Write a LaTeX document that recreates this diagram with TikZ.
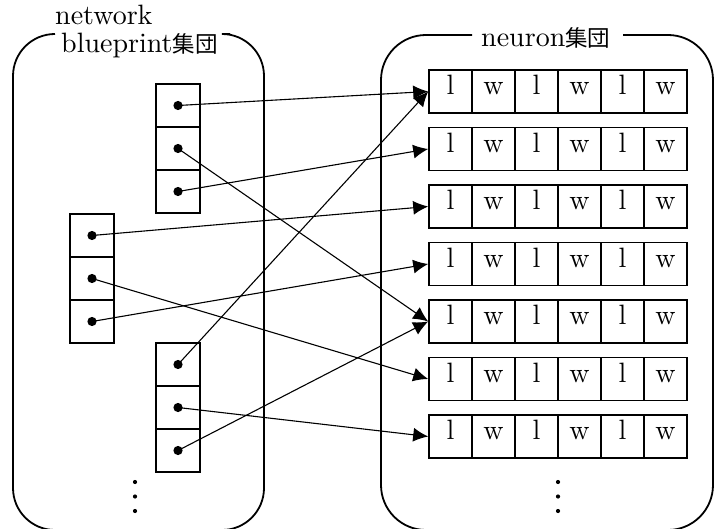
\documentclass[tikz,border=0pt]{standalone}
\usepackage{fontspec}
% the 10pt design of Latin Modern keeps its wide, sturdy shapes at large sizes
\IfFontExistsTF{lmroman10-regular.otf}
  {\setmainfont{lmroman10-regular}[Extension=.otf]}
  {}
\newfontfamily\cjk{Noto Sans CJK JP}
\usetikzlibrary{arrows.meta}
\begin{document}
\begin{tikzpicture}[x=1pt,y=1pt,
  every node/.style={font=\fontsize{28}{33}\selectfont},
  group/.style={line width=1.8pt},
  cell/.style={draw,line width=1.6pt,minimum width=43pt,minimum height=43pt,
    inner sep=0pt,text height=0.694em,text depth=0pt},
  slot/.style={draw,line width=1.6pt,minimum width=44pt,minimum height=43pt,inner sep=0pt},
  ptr/.style={line width=1.1pt,-{Latex[length=15pt,width=14pt]}},
  dot/.style={fill=black}]
\useasboundingbox (0,0) rectangle (714,528);

% blueprint group outline (gap at the top for its label)
\draw[group] (230,494) -- (222,494) arc (90:0:42) -- (264,40) arc (0:-90:42)
  -- (55,-2) arc (270:180:42) -- (13,452) arc (180:90:42);
\node[anchor=base west,inner sep=0pt] (bplab1) at (55,503) {network};
\node[anchor=base west,inner sep=0pt] (bplab2) at (61,475) {blueprint{\cjk\fontsize{22.5}{28}\selectfont 集団}};

% neuron group outline
\draw[group] (623,493) -- (668,493) arc (90:0:45) -- (713,43) arc (0:-90:45)
  -- (426,-2) arc (270:180:45) -- (381,448) arc (180:90:45) -- (472,493);
\node[anchor=base west,inner sep=0pt] (nlab) at (481,481) {neuron{\cjk\fontsize{22.5}{28}\selectfont 集団}};

% blueprint slots
\foreach \s/\x/\ya/\yb/\yc in {1/178/422.5/379.5/336.5, 2/92/292.5/249.5/206.5, 3/178/163.5/120.5/77.5}{
  \node[slot] (s\s-1) at (\x,\ya) {};
  \node[slot] (s\s-2) at (\x,\yb) {};
  \node[slot] (s\s-3) at (\x,\yc) {};
}

% neuron rows
\foreach \k/\Y in {1/436.5, 2/379, 3/321.5, 4/264, 5/206.5, 6/149, 7/91.5}{
  \foreach \j/\t in {0/l, 1/w, 2/l, 3/w, 4/l, 5/w}{
    \node[cell] (r\k-\j) at ({450.5+43*\j},\Y) {\t};
  }
}

% pointers
\draw[ptr] (s1-1.center) -- (r1-0.west);
\draw[ptr] (s1-2.center) -- (r5-0.west);
\draw[ptr] (s1-3.center) -- (r2-0.west);
\draw[ptr] (s2-1.center) -- (r3-0.west);
\draw[ptr] (s2-2.center) -- (r6-0.west);
\draw[ptr] (s2-3.center) -- (r4-0.west);
\draw[ptr] (s3-1.center) -- (r1-0.west);
\draw[ptr] (s3-2.center) -- (r7-0.west);
\draw[ptr] (s3-3.center) -- (r5-0.west);

% pointer origins
\foreach \s in {1,2,3}{
  \foreach \i in {1,2,3}{
    \fill[dot] (s\s-\i.center) circle (4.6pt);
  }
}

% continuation marks
\foreach \Y in {46,31.5,17}{
  \fill[dot] (135,\Y) circle (2.1pt);
  \fill[dot] (558,\Y) circle (2.1pt);
}
\end{tikzpicture}
\end{document}
